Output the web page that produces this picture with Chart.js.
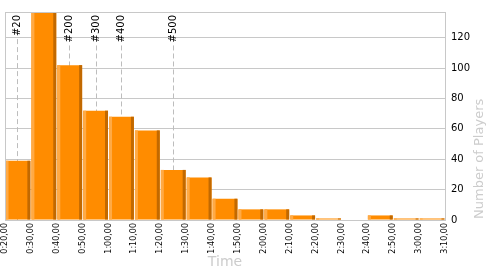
<!DOCTYPE html>
<html>
<head>
<meta charset="utf-8">
<script src="https://cdn.jsdelivr.net/npm/chart.js@4"></script>
<style>
    html, body { margin: 0; padding: 0; background: #fff; }
    #wrap { width: 500px; height: 275px; }
</style>
</head>
<body>
<div id="wrap"><canvas id="chart" width="500" height="275"></canvas></div>
<script>
// Finishing times histogram, 10 minute bins (minutes from the start of the bin)
const binStarts = [20, 30, 40, 50, 60, 70, 80, 90, 100, 110, 120, 130, 140, 150, 160, 170, 180];
const players = [39, 137, 102, 72, 68, 59, 33, 28, 14, 7, 7, 3, 1, 0, 3, 1, 1];
const BIN = 10;

// Rank markers: time (minutes) at which the n-th player finished
const rankLabels = ["#20", "#200", "#300", "#400", "#500"];
const rankTimes = [24.8, 44.8, 55, 65, 85];

const yTicksStep = 20;

function formatTime(v){
    /* minutes -> "h:mm,00" */
    const h = Math.floor(v / 60);
    const m = String(Math.round(v % 60)).padStart(2, "0");
    return h + ":" + m + ",00";
}

const FONT = "'DejaVu Sans', Verdana, sans-serif";
const GRID = "#c8c8c8";

// light strip on the left and dark strip on the right of every bar
const bevelPlugin = {
    id: "bevel",
    afterDatasetsDraw(chart){
        const ctx = chart.ctx;
        const meta = chart.getDatasetMeta(0);
        ctx.save();
        meta.data.forEach(bar => {
            const h = bar.base - bar.y;
            if(h <= 0) return;
            const left = bar.x - bar.width / 2;
            const right = bar.x + bar.width / 2;
            ctx.fillStyle = "#ffaa45";
            ctx.fillRect(left, bar.y, 3, h);
            ctx.fillStyle = "#c26900";
            ctx.fillRect(right - 3, bar.y, 3, h);
        });
        ctx.restore();
    }
};

// frame, rank markers and the right-hand axis title
const extrasPlugin = {
    id: "extras",
    beforeDatasetsDraw(chart){
        const ctx = chart.ctx;
        const area = chart.chartArea;
        const x = chart.scales.x;
        ctx.save();
        ctx.font = "10px " + FONT;
        ctx.fillStyle = "#000";
        ctx.textAlign = "right";
        ctx.textBaseline = "middle";
        rankTimes.forEach((t, i) => {
            const px = Math.round(x.getPixelForValue(t)) + 0.5;
            const w = ctx.measureText(rankLabels[i]).width;
            const top = area.top + 3;
            ctx.save();
            ctx.translate(px, top);
            ctx.rotate(-Math.PI / 2);
            ctx.fillText(rankLabels[i], 0, 0);
            ctx.restore();
            ctx.strokeStyle = "#bdbdbd";
            ctx.lineWidth = 1;
            ctx.setLineDash([5, 3]);
            ctx.beginPath();
            ctx.moveTo(px, top + w + 3);
            ctx.lineTo(px, area.bottom);
            ctx.stroke();
        });
        ctx.restore();
    },
    afterDraw(chart){
        const ctx = chart.ctx;
        const area = chart.chartArea;
        ctx.save();
        ctx.strokeStyle = GRID;
        ctx.lineWidth = 1;
        ctx.strokeRect(Math.round(area.left) + 0.5, Math.round(area.top) + 0.5,
                       Math.round(area.right - area.left), Math.round(area.bottom - area.top));

        ctx.font = "13px " + FONT;
        ctx.fillStyle = "#cccccc";
        ctx.textAlign = "left";
        ctx.textBaseline = "middle";
        ctx.translate(area.right + 35, area.bottom - 1);
        ctx.rotate(-Math.PI / 2);
        ctx.fillText("Number of Players", 0, 0);
        ctx.restore();
    }
};

const ctx = document.getElementById("chart").getContext("2d");

new Chart(ctx, {
    type: "bar",
    data: {
        datasets: [{
            label: "Players",
            data: binStarts.map((s, i) => ({ x: s + BIN / 2, y: players[i] })),
            backgroundColor: "#ff8c00",
            borderWidth: 0,
            barPercentage: 0.96,
            categoryPercentage: 1
        }]
    },
    options: {
        responsive: false,
        devicePixelRatio: 1,
        animation: false,
        layout: { padding: { top: 10, left: 5, right: 0, bottom: 0 } },
        plugins: {
            legend: { display: false },
            tooltip: { enabled: false }
        },
        scales: {
            x: {
                type: "linear",
                offset: false,
                min: binStarts[0],
                max: binStarts[binStarts.length - 1] + BIN,
                afterFit: s => { s.height = 55; },
                grid: { display: false, drawTicks: false },
                border: { display: false },
                ticks: {
                    stepSize: BIN,
                    autoSkip: false,
                    minRotation: 90,
                    maxRotation: 90,
                    padding: 3,
                    color: "#000",
                    font: { family: FONT, size: 8 },
                    callback: v => formatTime(v)
                },
                title: {
                    display: true,
                    text: "Time",
                    color: "#cccccc",
                    font: { family: FONT, size: 14 },
                    padding: { top: 4, bottom: 4 }
                }
            },
            y: {
                position: "right",
                min: 0,
                max: Math.max(...players),
                afterFit: s => { s.width = 55; },
                grid: { color: GRID, drawTicks: false },
                border: { display: false },
                ticks: {
                    stepSize: yTicksStep,
                    includeBounds: false,
                    padding: 6,
                    color: "#000",
                    font: { family: FONT, size: 10 }
                }
            }
        }
    },
    plugins: [extrasPlugin, bevelPlugin]
});
</script>
</body>
</html>
